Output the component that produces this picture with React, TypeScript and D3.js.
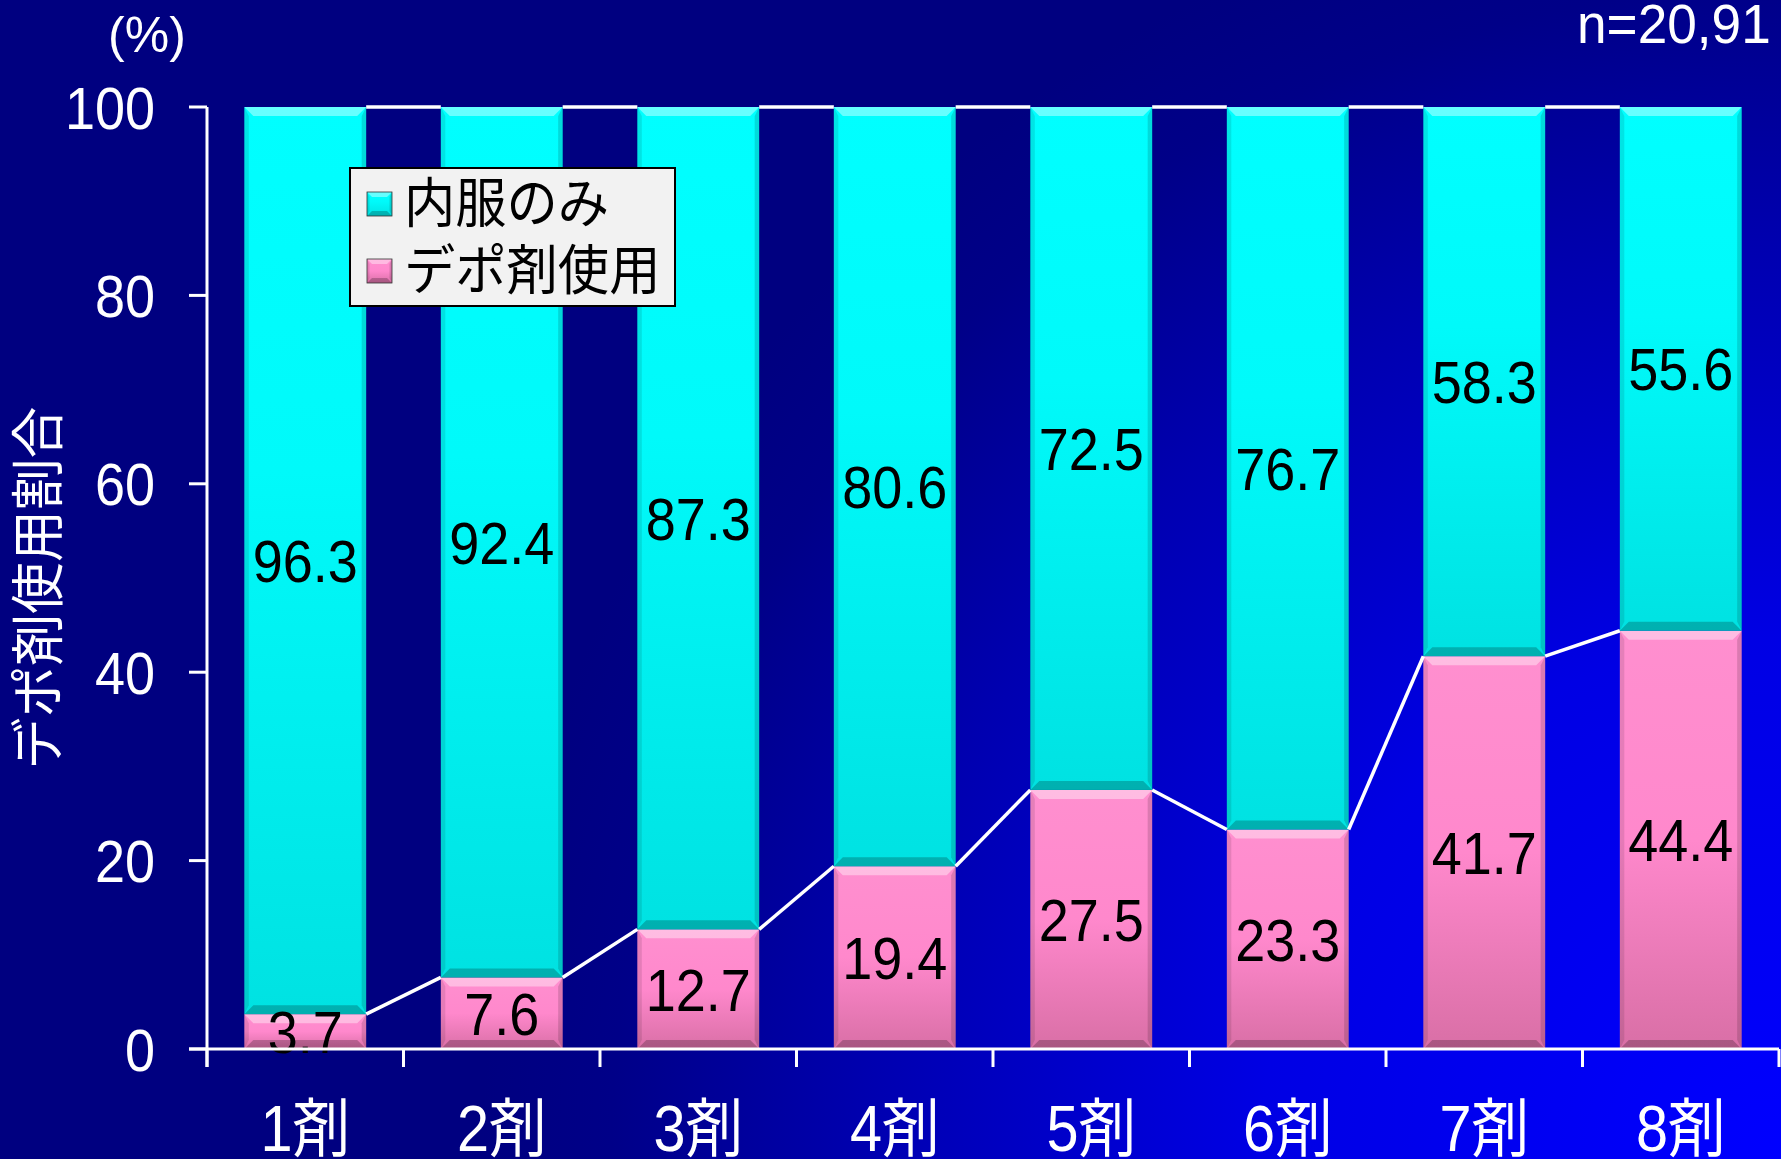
import React from "react";
import * as d3 from "d3";

const categories = ["1剤", "2剤", "3剤", "4剤", "5剤", "6剤", "7剤", "8剤"];
const depotUse = [3.7, 7.6, 12.7, 19.4, 27.5, 23.3, 41.7, 44.4];
const oralOnly = [96.3, 92.4, 87.3, 80.6, 72.5, 76.7, 58.3, 55.6];
const seriesKeys = ["depot", "oral"];
const seriesNames = ["内服のみ", "デポ剤使用"];
const yTicks = [0, 20, 40, 60, 80, 100];
const yTitle = "デポ剤使用割合";
const unitLabel = "(%)";
const nLabel = "n=20,91";

const W = 1781;
const H = 1159;
const M = { left: 207, right: 1779, top: 107, bottom: 1049 };

const NUM_FONT = "'Liberation Sans', Arial, sans-serif";
const JP_FONT = "'Liberation Sans', 'Noto Sans CJK JP', sans-serif";

function Bevel({ x, y, w, h, b }: { x: number; y: number; w: number; h: number; b: number }) {
  const bb = Math.min(b, h / 2, w / 2);
  const p = (pts: number[][]) => pts.map((q) => q.join(",")).join(" ");
  return (
    <g>
      <polygon points={p([[x, y], [x + w, y], [x + w - bb, y + bb], [x + bb, y + bb]])} fill="#ffffff" opacity={0.4} />
      <polygon points={p([[x, y + h], [x + w, y + h], [x + w - bb, y + h - bb], [x + bb, y + h - bb]])} fill="#000000" opacity={0.22} />
      <polygon points={p([[x, y], [x + bb * 0.5, y + bb], [x + bb * 0.5, y + h - bb], [x, y + h]])} fill="#000000" opacity={0.1} />
      <polygon points={p([[x + w, y], [x + w - bb * 0.5, y + bb], [x + w - bb * 0.5, y + h - bb], [x + w, y + h]])} fill="#000000" opacity={0.14} />
    </g>
  );
}

export default function App() {
  const x = d3
    .scaleBand<string>()
    .domain(categories)
    .range([M.left, M.right])
    .paddingInner(0.38)
    .paddingOuter(0.19);
  const y = d3.scaleLinear().domain([0, 100]).range([M.bottom, M.top]);

  const table = categories.map((c, i) => ({ cat: c, depot: depotUse[i], oral: oralOnly[i] }));
  const stacked = d3.stack<any>().keys(seriesKeys)(table);
  const fills = ["url(#gPink)", "url(#gCyan)"];
  const bw = x.bandwidth();
  const step = x.step();

  const boundaries = d3.range(categories.length + 1).map((i) => M.left + i * step);

  return (
    <svg width={W} height={H} style={{ position: "absolute", left: 0, top: 0, display: "block" }}>
      <defs>
        <radialGradient id="bg" cx={W} cy={H} r={1300} gradientUnits="userSpaceOnUse">
          <stop offset="0" stopColor="#0000ff" />
          <stop offset="0.4" stopColor="#0000e4" />
          <stop offset="0.7" stopColor="#0000b0" />
          <stop offset="0.9" stopColor="#000088" />
          <stop offset="1" stopColor="#000080" />
        </radialGradient>
        <linearGradient id="gCyan" x1="0" y1="0" x2="0" y2="1">
          <stop offset="0" stopColor="#00ffff" />
          <stop offset="0.4" stopColor="#00fafa" />
          <stop offset="1" stopColor="#00e2e2" />
        </linearGradient>
        <linearGradient id="gPink" x1="0" y1="0" x2="0" y2="1">
          <stop offset="0" stopColor="#ff8fcf" />
          <stop offset="0.5" stopColor="#ff88cc" />
          <stop offset="1" stopColor="#d96fa6" />
        </linearGradient>
      </defs>
      <rect x={0} y={0} width={W} height={H} fill="url(#bg)" />

      {/* bars */}
      {stacked.map((s, si) => (
        <g key={s.key}>
          {s.map((d, i) => {
            const bx = x(categories[i]) as number;
            const y0 = y(d[0]);
            const y1 = y(d[1]);
            return (
              <g key={i}>
                <rect x={bx} y={y1} width={bw} height={y0 - y1} fill={fills[si]} />
                <Bevel x={bx} y={y1} w={bw} h={y0 - y1} b={9} />
              </g>
            );
          })}
        </g>
      ))}

      {/* series lines */}
      {stacked.map((s) => (
        <g key={"sl" + s.key}>
          {s.slice(0, -1).map((d, i) => {
            const nx = s[i + 1];
            return (
              <line
                key={i}
                x1={(x(categories[i]) as number) + bw}
                y1={y(d[1])}
                x2={x(categories[i + 1]) as number}
                y2={y(nx[1])}
                stroke="#ffffff"
                strokeWidth={3.5}
              />
            );
          })}
        </g>
      ))}

      {/* data labels */}
      {stacked.map((s) => (
        <g key={"lb" + s.key}>
          {s.map((d, i) => {
            const cx = (x(categories[i]) as number) + bw / 2;
            const cy = (y(d[0]) + y(d[1])) / 2 + 21.5;
            const v = d[1] - d[0];
            return (
              <text
                key={i}
                transform={`translate(${cx},${cy}) scale(0.9,1)`}
                textAnchor="middle"
                fontFamily={NUM_FONT}
                fontSize={60}
                fill="#000000"
              >
                {v.toFixed(1)}
              </text>
            );
          })}
        </g>
      ))}

      {/* axes */}
      <line x1={M.left} y1={M.top} x2={M.left} y2={M.bottom + 18} stroke="#ffffff" strokeWidth={3} />
      <line x1={M.left - 18} y1={M.bottom} x2={M.right} y2={M.bottom} stroke="#ffffff" strokeWidth={3} />
      {yTicks.map((t) => (
        <g key={t}>
          <line x1={M.left - 18} x2={M.left} y1={y(t)} y2={y(t)} stroke="#ffffff" strokeWidth={3} />
          <text
            transform={`translate(${M.left - 52},${y(t) + 21.5}) scale(0.9,1)`}
            textAnchor="end"
            fontFamily={NUM_FONT}
            fontSize={60}
            fill="#ffffff"
          >
            {t}
          </text>
        </g>
      ))}
      {boundaries.map((bx, i) => (
        <line key={i} x1={bx} x2={bx} y1={M.bottom} y2={M.bottom + 18} stroke="#ffffff" strokeWidth={3} />
      ))}
      {categories.map((c) => (
        <text
          key={c}
          transform={`translate(${(x(c) as number) + bw / 2},${1151}) scale(0.9,1)`}
          textAnchor="middle"
          fontFamily={JP_FONT}
          fontSize={64}
          fill="#ffffff"
        >
          {c}
        </text>
      ))}

      {/* titles */}
      <text
        transform={`translate(${58},${588}) rotate(-90) scale(0.96,1)`}
        textAnchor="middle"
        fontFamily={JP_FONT}
        fontSize={54}
        fill="#ffffff"
      >
        {yTitle}
      </text>
      <text x={147} y={52} textAnchor="middle" fontFamily={NUM_FONT} fontSize={50} fill="#ffffff">
        {unitLabel}
      </text>
      <text transform={`translate(${1577},${43}) scale(0.95,1)`} fontFamily={NUM_FONT} fontSize={56} fill="#ffffff">
        {nLabel}
      </text>

      {/* legend */}
      <g>
        <rect x={350} y={168} width={325} height={138} fill="#f2f2f2" stroke="#000000" strokeWidth={2} />
        {[1, 0].map((si, row) => {
          const cy = 204 + row * 67;
          return (
            <g key={si}>
              <rect x={367} y={cy - 12} width={25} height={24} fill={fills[si]} />
              <Bevel x={367} y={cy - 12} w={25} h={24} b={5} />
              <rect x={367} y={cy - 12} width={25} height={24} fill="none" stroke="#333" strokeWidth={0.8} />
              <text
                transform={`translate(${404},${cy + 19}) scale(0.95,1)`}
                fontFamily={JP_FONT}
                fontSize={54}
                fill="#000000"
              >
                {seriesNames[row]}
              </text>
            </g>
          );
        })}
      </g>
    </svg>
  );
}
